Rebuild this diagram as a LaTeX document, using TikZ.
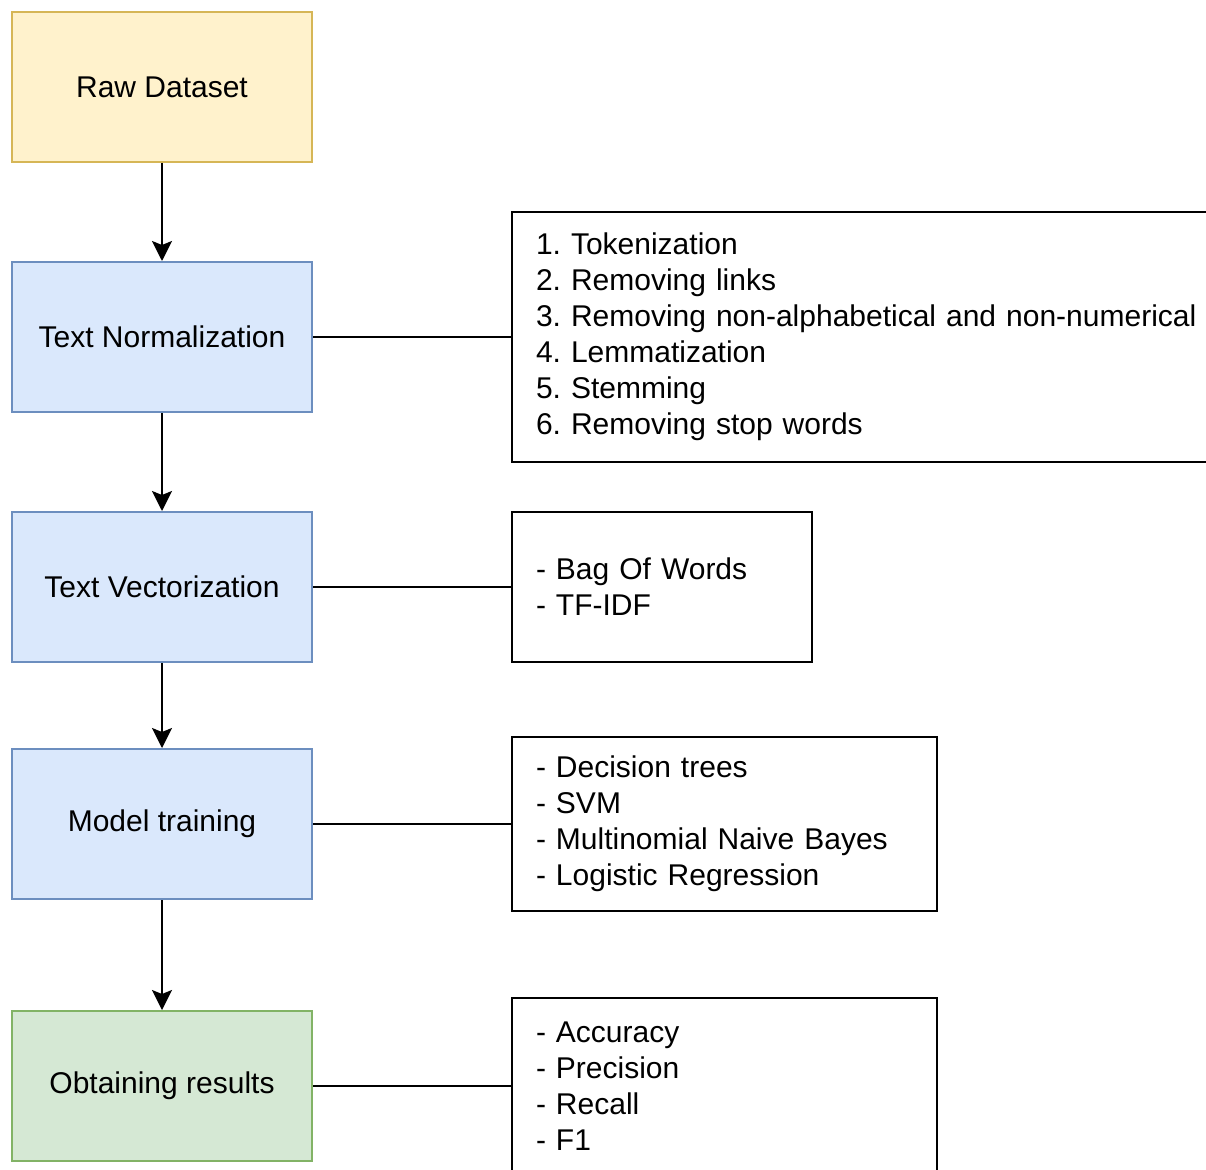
\documentclass[tikz,border=0pt]{standalone}
\usepackage{fontspec}
\setmainfont{Liberation Sans}
\usetikzlibrary{arrows.meta}
\definecolor{yfill}{HTML}{FFF2CC}
\definecolor{ystroke}{HTML}{D6B656}
\definecolor{bfill}{HTML}{DAE8FC}
\definecolor{bstroke}{HTML}{6C8EBF}
\definecolor{gfill}{HTML}{D5E8D4}
\definecolor{gstroke}{HTML}{82B366}
\frenchspacing
\begin{document}
\begin{tikzpicture}[x=1pt,y=-1pt,
  stage/.style={draw, line width=2pt, minimum width=300pt, minimum height=150pt, inner sep=0pt, font=\fontsize{30}{36}\selectfont},
  detail/.style={draw=black, line width=2pt, inner xsep=24pt, inner ysep=0pt, align=left, font=\fontsize{30}{36}\selectfont},
  flow/.style={line width=2pt, -{Stealth[length=20pt,width=20pt,inset=4pt]}},
  link/.style={line width=2pt}]
\useasboundingbox (0,0) rectangle (1206,1169);
\clip (0,0) rectangle (1206,1169);
\node[stage, fill=yfill, draw=ystroke] (raw) at (162,87) {Raw Dataset};
\node[stage, fill=bfill, draw=bstroke] (norm) at (162,337) {Text Normalization};
\node[stage, fill=bfill, draw=bstroke] (vec) at (162,587) {Text Vectorization};
\node[stage, fill=bfill, draw=bstroke] (train) at (162,824) {Model training};
\node[stage, fill=gfill, draw=gstroke] (res) at (162,1086) {Obtaining results};
\node[detail, minimum width=740pt, minimum height=250pt, text width=692pt, anchor=west] (d1) at (511,337) {1. Tokenization\\2. Removing links\\3. Removing non-alphabetical and non-numerical\\4. Lemmatization\\5. Stemming\\6. Removing stop words};
\node[detail, minimum width=300pt, minimum height=150pt, text width=252pt, anchor=west] (d2) at (511,587) {- Bag Of Words\\- TF-IDF};
\node[detail, minimum width=425pt, minimum height=174pt, text width=377pt, anchor=west] (d3) at (511,824) {- Decision trees\\- SVM\\- Multinomial Naive Bayes\\- Logistic Regression};
\node[detail, minimum width=425pt, minimum height=176pt, text width=377pt, anchor=west] (d4) at (511,1086) {- Accuracy\\- Precision\\- Recall\\- F1};
\draw[flow] (raw.south) -- (norm.north);
\draw[flow] (norm.south) -- (vec.north);
\draw[flow] (vec.south) -- (train.north);
\draw[flow] (train.south) -- (res.north);
\draw[link] (norm.east) -- (d1.west);
\draw[link] (vec.east) -- (d2.west);
\draw[link] (train.east) -- (d3.west);
\draw[link] (res.east) -- (d4.west);
\end{tikzpicture}
\end{document}
